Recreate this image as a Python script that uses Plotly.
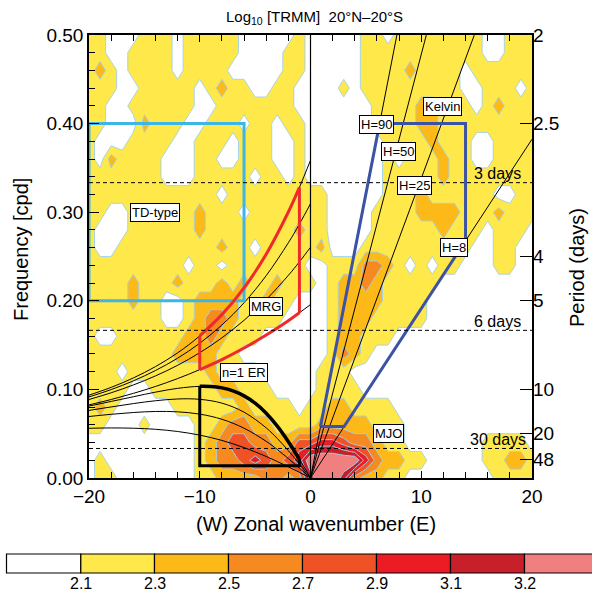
import numpy as np
import plotly.graph_objects as go

# ---------------- data ----------------
wavenumber = list(range(-20, 21))
frequency = [0.00, 0.02, 0.04, 0.06, 0.08, 0.10, 0.12, 0.14, 0.16, 0.18, 0.20, 0.22, 0.24,
             0.26, 0.28, 0.30, 0.32, 0.34, 0.36, 0.38, 0.40, 0.42, 0.44, 0.46, 0.48, 0.50]

# log10 power class per cell (0: <2.1, 1: 2.1-2.3, ... 7: >3.2)
# rows from f=0.50 (top) to f=0.00 (bottom); columns k=-20..20
power_class_rows = [
    "11000111011111000001" + "0" + "00001101111111100111",  # 0.50
    "11001111011111000011" + "0" + "00001111111111100111",  # 0.48
    "12101111011110000011" + "0" + "00001111211110111111",  # 0.46
    "11100111110121100110" + "0" + "00101111111110011101",  # 0.44
    "11001111110011111110" + "0" + "00000111122111012111",  # 0.42
    "11000211100111011011" + "0" + "00000111122111111111",  # 0.40
    "10001111001110111001" + "0" + "00000011112111001111",  # 0.38
    "10211110001100111001" + "0" + "00000010111211001111",  # 0.36
    "11111110001111101101" + "0" + "00000011111211111111",  # 0.34
    "11111111111101111111" + "1" + "10000011121111110011",  # 0.32
    "11001111112111011111" + "1" + "10000111122221112111",  # 0.30
    "10001111112111111112" + "1" + "10000111111211101110",  # 0.28
    "10011111111121101111" + "1" + "20001111111111001100",  # 0.26
    "11111111101101111111" + "0" + "01113321010110001100",  # 0.24
    "11112111211121211211" + "1" + "01223211111000000000",  # 0.22
    "11112110012222112110" + "0" + "01222211110000000000",  # 0.20
    "11111110012332111100" + "0" + "01222111110000000000",  # 0.18
    "10011111122321110000" + "0" + "01221110000000000000",  # 0.16
    "11111111222211000000" + "0" + "01321000000000000000",  # 0.14
    "11101111111211110000" + "0" + "11100000000000000000",  # 0.12
    "11110011111122111000" + "0" + "11110000000000000000",  # 0.10
    "12100000111111211110" + "1" + "12211110000000000000",  # 0.08
    "11000100001123322111" + "1" + "22222111000000000000",  # 0.06
    "00000000001234433224" + "4" + "55433211000000011110",  # 0.04
    "01000000001233454345" + "7" + "77775322110000011221",  # 0.02
    "01100000001122223323" + "6" + "77632211000000001111",  # 0.00
]
class_log10_power = [2.0, 2.2, 2.4, 2.6, 2.8, 3.0, 3.15, 3.3]
contour_levels = [2.1, 2.3, 2.5, 2.7, 2.9, 3.1, 3.2]
level_labels = ["2.1", "2.3", "2.5", "2.7", "2.9", "3.1", "3.2"]
level_colors = ["#ffffff", "#ffe84a", "#fdb918", "#f6891f", "#ee5225",
                "#ec1c24", "#c7202a", "#f08080"]

# equatorial wave dispersion curves (wavenumber, frequency [cpd])
er_k_h90 = [-20, -18, -16, -14, -12, -10, -9, -8, -7, -6, -5, -4, -3, -2, -1, 0]
er_f_h90 = [0.0812, 0.0864, 0.0917, 0.0969, 0.1012, 0.1035, 0.1033, 0.1017, 0.0983,
            0.0927, 0.0844, 0.0731, 0.0585, 0.0410, 0.0212, 0.0]
er_k = [-20, -18, -16, -14, -12, -10, -8, -6, -4, -3, -2, -1, 0]
er_f_h50 = [0.0763, 0.0802, 0.0840, 0.0872, 0.0892, 0.0888, 0.0845, 0.0743, 0.0566, 0.0446, 0.0309, 0.0158, 0.0]
er_f_h25 = [0.0694, 0.0719, 0.0739, 0.0751, 0.0747, 0.0721, 0.0663, 0.0562, 0.0414, 0.0322, 0.0220, 0.0112, 0.0]
er_f_h8 = [0.0561, 0.0565, 0.0562, 0.0550, 0.0525, 0.0484, 0.0424, 0.0343, 0.0243, 0.0186, 0.0126, 0.0064, 0.0]

mrg_k = [-20, -18, -16, -14, -12, -10, -8, -6, -4, -2, -1, 0]
mrg_f_h8 = [0.0825, 0.0886, 0.0955, 0.1033, 0.1122, 0.1223, 0.1337, 0.1467, 0.1613, 0.1776, 0.1865, 0.1958]
mrg_f_h25 = [0.0886, 0.0962, 0.1050, 0.1152, 0.1272, 0.1414, 0.1582, 0.1780, 0.2014, 0.2287, 0.2440, 0.2604]
mrg_f_h50 = [0.0915, 0.0998, 0.1096, 0.1213, 0.1352, 0.1521, 0.1727, 0.1978, 0.2284, 0.2655, 0.2866, 0.3096]
mrg_f_h90 = [0.0935, 0.1023, 0.1129, 0.1257, 0.1412, 0.1604, 0.1844, 0.2146, 0.2526, 0.3002, 0.3280, 0.3586]

kelvin_end_k = [20.0, 14.79, 10.46, 7.80]
kelvin_end_f = [0.3824, 0.5, 0.5, 0.5]

# boxes
td_box_k = [-20, -6, -6, -20, -20]
td_box_f = [0.2, 0.2, 0.4, 0.4, 0.2]
kelvin_box_k = [0.90, 6.24, 14.0, 14.0, 3.03, 0.90]
kelvin_box_f = [0.058, 0.40, 0.40, 0.2677, 0.058, 0.058]
mrg_box_k_range = (-10, -1)
er_box_k_range = (-10, -1)
er_box_bottom_f = 0.0139

period_ticks_days = [2, 2.5, 4, 5, 10, 20, 48]
dashed_periods_days = [3, 6, 30]

labels_boxed = [("H=90", 5.96, 0.399), ("H=50", 7.97, 0.369), ("H=25", 9.35, 0.330),
                ("H=8", 12.96, 0.260), ("Kelvin", 11.9, 0.419), ("TD-type", -14.07, 0.2994),
                ("MRG", -4.03, 0.1937), ("n=1 ER", -6.02, 0.1192), ("MJO", 7.0, 0.050)]

# ---------------- figure ----------------
FONT = "Liberation Sans, Arial, Helvetica, sans-serif"
for r in power_class_rows:
    assert len(r) == 41, (len(r), r)

z = np.array([[class_log10_power[int(c)] for c in row] for row in power_class_rows[::-1]])
lv = np.array(contour_levels)
zi = np.interp(z, lv, np.arange(1, 8))
zi = np.where(z < lv[0], 1 - (lv[0] - z) / 0.2, zi)
zi = np.where(z > lv[-1], 7 + (z - lv[-1]) / 0.1, zi)

fig = go.Figure()
fig.add_trace(go.Contour(
    x=wavenumber, y=frequency, z=zi,
    contours=dict(start=1, end=7, size=1, coloring="fill", showlines=True),
    colorscale=[[i / 7, c] for i, c in enumerate(level_colors)],
    line=dict(color="#a4d2e6", width=1, smoothing=0),
    showscale=False, hoverinfo="skip"))

def add_line(xs, ys, color="black", width=1, shape="linear"):
    fig.add_trace(go.Scatter(x=xs, y=ys, mode="lines",
                             line=dict(color=color, width=width, shape=shape),
                             showlegend=False, hoverinfo="skip"))

# thin dispersion curves
add_line(er_k_h90, er_f_h90, shape="spline")
for fs in (er_f_h50, er_f_h25, er_f_h8):
    add_line(er_k, fs, shape="spline")
for fs in (mrg_f_h8, mrg_f_h25, mrg_f_h50, mrg_f_h90):
    add_line(mrg_k, fs, shape="spline")
for ke, fe in zip(kelvin_end_k, kelvin_end_f):
    add_line([0, ke], [0, fe])

# boxes
add_line(td_box_k, td_box_f, color="#3db5e6", width=3)
add_line(kelvin_box_k, kelvin_box_f, color="#3c52a4", width=3)

RED = "#ee2a2a"
i0, i1 = mrg_k.index(mrg_box_k_range[0]), mrg_k.index(mrg_box_k_range[1])
seg_k = mrg_k[i0:i1 + 1]
top_f = mrg_f_h90[i0:i1 + 1]
bot_f = mrg_f_h8[i0:i1 + 1]
add_line(seg_k, top_f, color=RED, width=3, shape="spline")
add_line(seg_k, bot_f, color=RED, width=3, shape="spline")
add_line([seg_k[0], seg_k[0]], [bot_f[0], top_f[0]], color=RED, width=3)
add_line([seg_k[-1], seg_k[-1]], [bot_f[-1], top_f[-1]], color=RED, width=3)

j0, j1 = er_k_h90.index(er_box_k_range[0]), er_k_h90.index(er_box_k_range[1])
er_top_k = er_k_h90[j0:j1 + 1]
er_top_f = er_f_h90[j0:j1 + 1]
add_line(er_top_k, er_top_f, color="black", width=3.5, shape="spline")
add_line([er_top_k[-1], er_top_k[-1], er_top_k[0], er_top_k[0]],
         [er_top_f[-1], er_box_bottom_f, er_box_bottom_f, er_top_f[0]], color="black", width=3)

# invisible trace for right axis
fig.add_trace(go.Scatter(x=[0], y=[0], yaxis="y2", mode="markers", marker=dict(opacity=0),
                         showlegend=False, hoverinfo="skip"))

shapes = []
for p in dashed_periods_days:
    shapes.append(dict(type="line", xref="x", yref="y", x0=-20, x1=20, y0=1 / p, y1=1 / p,
                       line=dict(color="black", width=1, dash="4px,3px"), layer="above"))
shapes.append(dict(type="line", xref="x", yref="y", x0=0, x1=0, y0=0, y1=0.5,
                   line=dict(color="black", width=1.2), layer="above"))

# manual colour bar (pixel geometry converted to paper coordinates)
PX_L, PX_T, PW, PH = 89.0, 35.0, 443.0, 443.0
def px2paper_x(px):
    return (px - PX_L) / PW
def py2paper_y(py):
    return (PX_T + PH - py) / PH
cb_edges = [6.5, 80.8, 154.5, 228.5, 302.5, 376.5, 450.5, 524.5, 598.5]
cb_top, cb_bot = 554.0, 573.0
for i, col in enumerate(level_colors):
    shapes.append(dict(type="rect", xref="paper", yref="paper",
                       x0=px2paper_x(cb_edges[i]), x1=px2paper_x(cb_edges[i + 1]),
                       y0=py2paper_y(cb_bot), y1=py2paper_y(cb_top),
                       fillcolor=col, line=dict(color="black", width=1.2)))

annotations = []
for i, lab in enumerate(level_labels):
    annotations.append(dict(xref="paper", yref="paper", x=px2paper_x(cb_edges[i + 1]), y=py2paper_y(583),
                            text=lab, showarrow=False, font=dict(family=FONT, size=16, color="black"),
                            xanchor="center", yanchor="middle"))
for txt, kx, fy in labels_boxed:
    annotations.append(dict(xref="x", yref="y", x=kx, y=fy, text=txt, showarrow=False,
                            xanchor="center", yanchor="middle",
                            font=dict(family=FONT, size=13, color="black"),
                            bgcolor="white", bordercolor="black", borderwidth=1, borderpad=1))
for p in dashed_periods_days:
    annotations.append(dict(xref="x", yref="y", x=16.9, y=1 / p + 0.0105, text=f"{p} days",
                            showarrow=False, xanchor="center", yanchor="middle",
                            font=dict(family=FONT, size=16, color="black")))
annotations += [
    dict(xref="paper", yref="paper", x=px2paper_x(314), y=py2paper_y(18),
         text="Log<sub>10</sub> [TRMM]\u00a0\u00a020°N–20°S", showarrow=False,
         xanchor="center", yanchor="middle", font=dict(family=FONT, size=15, color="black")),
    dict(xref="paper", yref="paper", x=px2paper_x(316), y=py2paper_y(524),
         text="(W) Zonal wavenumber (E)", showarrow=False,
         xanchor="center", yanchor="middle", font=dict(family=FONT, size=20, color="black")),
    dict(xref="paper", yref="paper", x=px2paper_x(21), y=py2paper_y(250),
         text="Frequency [cpd]", textangle=-90, showarrow=False,
         xanchor="center", yanchor="middle", font=dict(family=FONT, size=20, color="black")),
    dict(xref="paper", yref="paper", x=px2paper_x(577), y=py2paper_y(268),
         text="Period (days)", textangle=-90, showarrow=False,
         xanchor="center", yanchor="middle", font=dict(family=FONT, size=20, color="black")),
]

fig.update_layout(
    width=592, height=592, margin=dict(l=89, r=60, t=35, b=114),
    paper_bgcolor="white", plot_bgcolor="white", showlegend=False,
    font=dict(family=FONT, size=19, color="black"),
    xaxis=dict(range=[-20, 20], tickmode="array", tickvals=[-20, -10, 0, 10, 20],
               ticks="inside", ticklen=7, tickwidth=1, tickcolor="black",
               minor=dict(tickvals=list(range(-18, 20, 2)), ticks="inside", ticklen=6, tickcolor="black"),
               showline=True, linecolor="black", linewidth=1.5, mirror="ticks",
               showgrid=False, zeroline=False, tickfont=dict(size=19)),
    yaxis=dict(range=[0, 0.5], tickmode="array", tickvals=[0, 0.1, 0.2, 0.3, 0.4, 0.5],
               tickformat=".2f", ticks="inside", ticklen=10, tickwidth=1, tickcolor="black",
               minor=dict(dtick=0.02, ticks="inside", ticklen=6, tickcolor="black"),
               showline=True, linecolor="black", linewidth=1.5, mirror=True,
               showgrid=False, zeroline=False, tickfont=dict(size=19)),
    yaxis2=dict(range=[0, 0.5], overlaying="y", side="right", tickmode="array",
                tickvals=[1 / p for p in period_ticks_days],
                ticktext=[("%g" % p) for p in period_ticks_days],
                ticks="inside", ticklen=12, tickcolor="black", showline=False,
                showgrid=False, zeroline=False, tickfont=dict(size=19)),
    shapes=shapes, annotations=annotations,
)

fig.write_html("out.html", config={"displayModeBar": False},
               post_script="document.body.style.margin='0px';document.body.style.padding='0px';")
